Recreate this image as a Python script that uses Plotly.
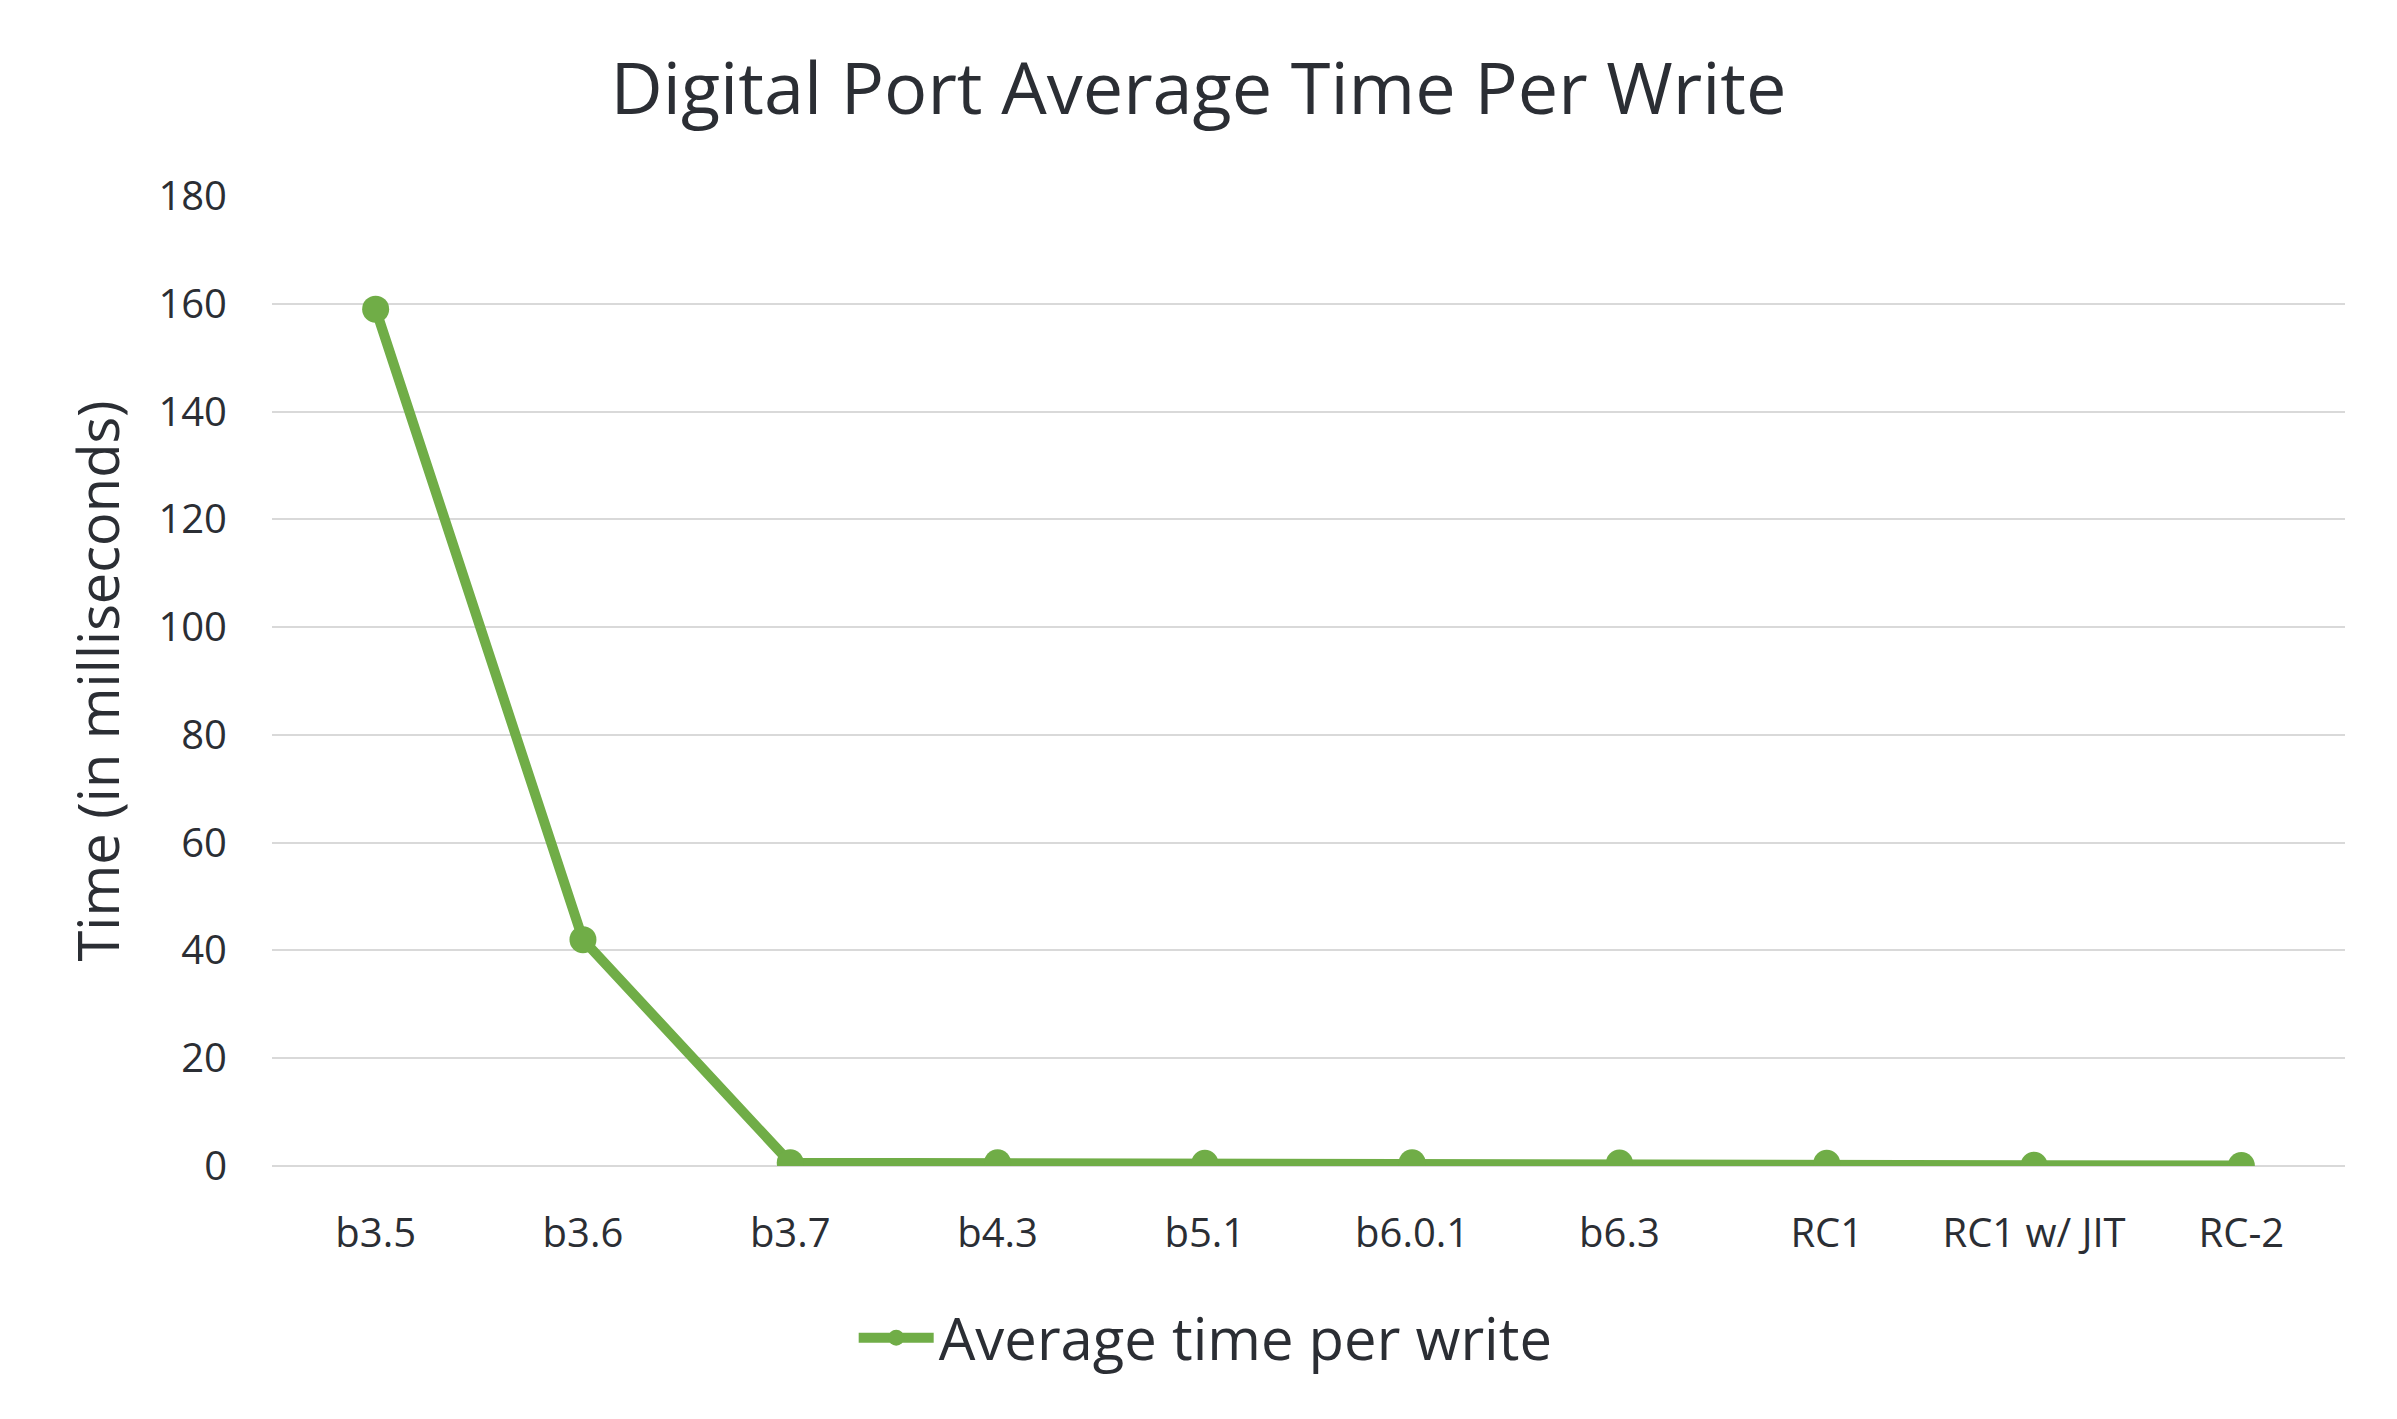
import plotly.graph_objects as go

categories = ["b3.5", "b3.6", "b3.7", "b4.3", "b5.1", "b6.0.1", "b6.3", "RC1", "RC1 w/ JIT", "RC-2"]
avg_time = [159, 42, 0.6, 0.6, 0.5, 0.6, 0.55, 0.5, 0.15, 0.1]
y_ticks = [0, 20, 40, 60, 80, 100, 120, 140, 160, 180]

GREEN = "#70AD47"
TEXT = "#2B2E34"
GRID = "#D9D9D9"
FONT = "Open Sans"

fig = go.Figure()
fig.add_trace(go.Scatter(
    x=categories, y=avg_time, mode="lines+markers",
    name="Average time per write",
    line=dict(color=GREEN, width=10),
    marker=dict(color=GREEN, size=27),
))

fig.update_layout(
    width=2397, height=1419,
    paper_bgcolor="white", plot_bgcolor="white",
    margin=dict(l=272, r=52, t=196, b=253),
    font=dict(family=FONT, color=TEXT, size=40),
    title=dict(text="Digital Port Average Time Per Write", x=0.5, xref="container",
               xanchor="center", y=1 - 89 / 1419, yref="container", yanchor="middle",
               font=dict(size=72, color=TEXT, family=FONT)),
    showlegend=True,
    legend=dict(orientation="h", xref="container", yref="container",
                x=0.503, xanchor="center", y=1 - 1338 / 1419, yanchor="middle",
                font=dict(size=58, color=TEXT, family=FONT), itemwidth=75),
)

fig.update_xaxes(
    type="category", range=[-0.5, len(categories) - 0.5],
    showgrid=False, showline=False, zeroline=False,
    tickfont=dict(size=40, color=TEXT), ticks="", ticklabelstandoff=40,
)
fig.update_yaxes(
    range=[0, 180], tickvals=y_ticks, showgrid=True, gridcolor=GRID, gridwidth=2,
    zeroline=True, zerolinecolor=GRID, zerolinewidth=2, showline=False,
    tickfont=dict(size=40, color=TEXT), ticks="", ticklabelstandoff=44,
    title=dict(text="Time (in milliseconds)", font=dict(size=56, color=TEXT), standoff=20),
)

fig.write_html("out.html")
